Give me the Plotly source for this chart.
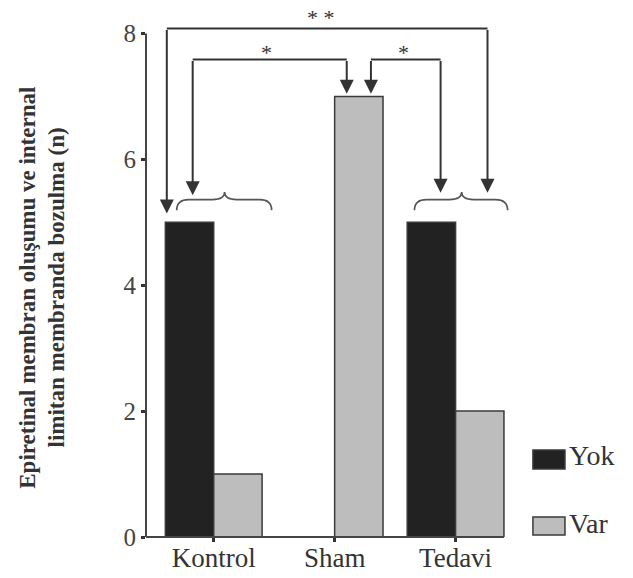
import plotly.graph_objects as go

# ---- data ----
categories = ["Kontrol", "Sham", "Tedavi"]
series_names = ["Yok", "Var"]
yok_values = [5, 0, 5]
var_values = [1, 7, 2]
y_ticks = [0, 2, 4, 6, 8]
y_title_lines = ["Epiretinal membran oluşumu ve internal", "limitan membranda bozulma (n)"]
sig_labels = ["* *", "*", "*"]

# ---- styling ----
YOK_COLOR = "#222222"
VAR_COLOR = "#bdbdbd"
EDGE = "#3a3a3a"
LINE = "#333333"
FONT = "Liberation Serif"

xpos = list(range(len(categories)))

fig = go.Figure()
fig.add_trace(go.Bar(x=xpos, y=yok_values, name=series_names[0],
                     marker=dict(color=YOK_COLOR, line=dict(color=EDGE, width=1.5)),
                     showlegend=False))
fig.add_trace(go.Bar(x=xpos, y=var_values, name=series_names[1],
                     marker=dict(color=VAR_COLOR, line=dict(color=EDGE, width=1.5)),
                     showlegend=False))

XMIN, XMAX = -0.56, 2.45
XAXIS_END = 2.40
YMAX = 8.15

shapes = []
# axis lines
shapes.append(dict(type="line", xref="paper", yref="y", x0=0, x1=0, y0=0, y1=8,
                   line=dict(color="#444444", width=2)))
shapes.append(dict(type="line", xref="x", yref="paper", x0=XMIN, x1=XAXIS_END, y0=0, y1=0,
                   line=dict(color="#444444", width=2)))

# significance brackets (horizontal tops)
outer_l, outer_r, outer_top = -0.388, 2.264, 8.08
in1_l, in1_r, in_top = -0.174, 1.10, 7.585
in2_l, in2_r = 1.30, 1.876
for a, b, t in [(outer_l, outer_r, outer_top), (in1_l, in1_r, in_top), (in2_l, in2_r, in_top)]:
    shapes.append(dict(type="line", xref="x", yref="y", x0=a, x1=b, y0=t, y1=t,
                       line=dict(color=LINE, width=2)))

# curly braces
def brace(x0, x1, cx, ye, yb, yc, w):
    return (f"M {x0},{ye} Q {x0},{yb} {x0 + w},{yb} L {cx - w},{yb} "
            f"Q {cx},{yb} {cx},{yc} Q {cx},{yb} {cx + w},{yb} "
            f"L {x1 - w},{yb} Q {x1},{yb} {x1},{ye}")

for (x0, x1, cx) in [(-0.306, 0.479, 0.09), (1.66, 2.43, 2.05)]:
    shapes.append(dict(type="path", xref="x", yref="y",
                       path=brace(x0, x1, cx, 5.19, 5.36, 5.48, 0.1),
                       line=dict(color="#555555", width=1.6)))

# manual legend rectangles
shapes.append(dict(type="rect", xref="paper", yref="paper", x0=1.063, x1=1.151, y0=0.1326, y1=0.1696,
                   fillcolor=YOK_COLOR, line=dict(color=EDGE, width=1.5)))
shapes.append(dict(type="rect", xref="paper", yref="paper", x0=1.063, x1=1.151, y0=0.004, y1=0.039,
                   fillcolor=VAR_COLOR, line=dict(color=EDGE, width=1.5)))

annotations = []
# arrows (vertical segments with heads)
arrows = [(outer_l, outer_top, 5.14), (outer_r, outer_top, 5.47),
          (in1_l, in_top, 5.43), (in1_r, in_top, 7.04),
          (in2_l, in_top, 7.04), (in2_r, in_top, 5.47)]
for x, ytop, ytip in arrows:
    annotations.append(dict(x=x, y=ytip, ax=x, ay=ytop, xref="x", yref="y", axref="x", ayref="y",
                            text="", showarrow=True, arrowhead=2, arrowsize=1.4, arrowwidth=2,
                            arrowcolor=LINE))

# significance labels
for (x, y), s in zip([(0.89, 8.25), (0.44, 7.70), (1.57, 7.70)], sig_labels):
    annotations.append(dict(x=x, y=y / YMAX, xref="x", yref="paper", text=s, showarrow=False,
                            xanchor="center", yanchor="middle",
                            font=dict(family=FONT, size=22, color="#333333")))

# legend text
annotations.append(dict(x=1.157, y=0.158, xref="paper", yref="paper", text=series_names[0],
                        xanchor="left", yanchor="middle", showarrow=False,
                        font=dict(family=FONT, size=28, color="#333333")))
annotations.append(dict(x=1.157, y=0.027, xref="paper", yref="paper", text=series_names[1],
                        xanchor="left", yanchor="middle", showarrow=False,
                        font=dict(family=FONT, size=28, color="#333333")))

# y-axis title (two lines)
for xp, line in zip([-0.324, -0.245], y_title_lines):
    annotations.append(dict(x=xp, y=0.486, xref="paper", yref="paper", text=f"<b>{line}</b>",
                            textangle=-90, xanchor="center", yanchor="middle", showarrow=False,
                            font=dict(family=FONT, size=23, color="#333333")))

fig.update_layout(
    width=633, height=578,
    margin=dict(l=146, r=123, t=24, b=41, pad=0, autoexpand=False),
    paper_bgcolor="white", plot_bgcolor="white",
    font=dict(family=FONT),
    barmode="group", bargap=0.2, bargroupgap=0,
    shapes=shapes, annotations=annotations,
    xaxis=dict(range=[XMIN, XMAX], tickmode="array", tickvals=xpos, ticktext=categories,
               showline=False, showgrid=False, zeroline=False, automargin=False,
               ticks="outside", ticklen=4, tickwidth=3, tickcolor="#333333",
               ticklabelstandoff=-7,
               tickfont=dict(family=FONT, size=27, color="#333333")),
    yaxis=dict(range=[0, YMAX], tickmode="array", tickvals=y_ticks,
               showline=False, showgrid=False, zeroline=False, automargin=False,
               ticks="outside", ticklen=4, tickwidth=3, tickcolor="#333333",
               tickfont=dict(family=FONT, size=25, color="#444444")),
    showlegend=False,
)

fig.write_html("out.html", config={"displayModeBar": False},
               post_script="document.body.style.margin='0';")
